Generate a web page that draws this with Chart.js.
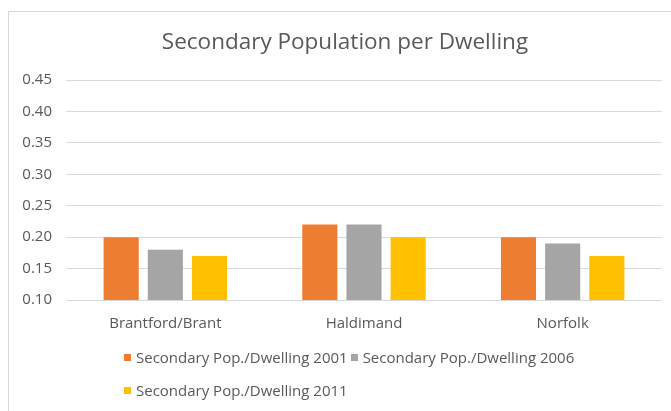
<!DOCTYPE html>
<html>
<head>
<meta charset="utf-8">
<script src="https://cdn.jsdelivr.net/npm/chart.js@4/dist/chart.umd.min.js"></script>
<style>
  html, body { margin: 0; padding: 0; background: #ffffff; overflow: hidden; }
  body { width: 671px; height: 411px; position: relative; }
  #frame {
    position: absolute; left: 8px; top: 11px; width: 700px; height: 420px;
    border-left: 1px solid #d9d9d9; border-top: 1px solid #d9d9d9;
  }
  #wrap { position: absolute; left: 9px; top: 12px; width: 672px; height: 399px; }
  #legend {
    position: absolute; left: 124px; top: 347px; width: 470px;
    display: flex; flex-wrap: wrap; row-gap: 13px;
    font-family: "Open Sans", sans-serif; font-size: 15px; color: #595959;
  }
  .item { display: flex; align-items: center; margin-right: 3px; height: 20px; white-space: nowrap; }
  .swatch { width: 7px; height: 7px; margin-right: 5px; }
</style>
</head>
<body>
<div id="frame"></div>
<div id="wrap"><canvas id="chart"></canvas></div>
<div id="legend"></div>
<script>
// Municipalities along the x axis
const categories = ["Brantford/Brant", "Haldimand", "Norfolk"];

// Secondary population per dwelling by census year
const seriesNames = [
  "Secondary Pop./Dwelling 2001",
  "Secondary Pop./Dwelling 2006",
  "Secondary Pop./Dwelling 2011"
];
const values2001 = [0.20, 0.22, 0.20];
const values2006 = [0.18, 0.22, 0.19];
const values2011 = [0.17, 0.20, 0.17];

// Value axis ticks
const yTicks = [0.10, 0.15, 0.20, 0.25, 0.30, 0.35, 0.40, 0.45];

const colors = ["#ED7D31", "#A5A5A5", "#FFC000"];
const seriesValues = [values2001, values2006, values2011];

const textColor = "#595959";
const fontFamily = "'Open Sans', sans-serif";

// Centre the title over the whole framed area rather than the padded layout box
const titleShift = {
  id: "titleShift",
  afterLayout(chart) {
    if (chart.titleBlock) chart.titleBlock.left += 19;
  }
};

const chart = new Chart(document.getElementById("chart"), {
  type: "bar",
  data: {
    labels: categories,
    datasets: seriesNames.map((name, i) => ({
      label: name,
      data: seriesValues[i],
      backgroundColor: colors[i],
      borderWidth: 0,
      categoryPercentage: 0.667,
      barPercentage: 0.795
    }))
  },
  options: {
    responsive: true,
    maintainAspectRatio: false,
    animation: false,
    layout: { padding: { left: 0, right: 19, top: 0, bottom: 63 } },
    plugins: {
      legend: { display: false },
      tooltip: { enabled: false },
      title: {
        display: true,
        text: "Secondary Population per Dwelling",
        color: textColor,
        font: { family: fontFamily, size: 22.5, weight: "normal" },
        padding: { top: 17, bottom: 24 }
      }
    },
    scales: {
      x: {
        grid: { display: false, drawTicks: false },
        border: { display: false },
        ticks: { color: textColor, font: { family: fontFamily, size: 15 }, padding: 15 }
      },
      y: {
        min: yTicks[0],
        max: yTicks[yTicks.length - 1],
        afterBuildTicks: (scale) => { scale.ticks = yTicks.map(v => ({ value: v })); },
        afterFit: (scale) => { scale.width = 57; },
        grid: { color: "#d9d9d9", lineWidth: 1, drawTicks: false },
        border: { display: false },
        ticks: {
          color: textColor,
          font: { family: fontFamily, size: 15 },
          padding: 14,
          callback: (v) => Number(v).toFixed(2)
        }
      }
    }
  },
  plugins: [titleShift]
});

// Legend rows built from the series names and colours
const legend = document.getElementById("legend");
seriesNames.forEach((name, i) => {
  const item = document.createElement("div");
  item.className = "item";
  const sw = document.createElement("span");
  sw.className = "swatch";
  sw.style.background = colors[i];
  const txt = document.createElement("span");
  txt.textContent = name;
  item.appendChild(sw);
  item.appendChild(txt);
  legend.appendChild(item);
});
</script>
</body>
</html>
